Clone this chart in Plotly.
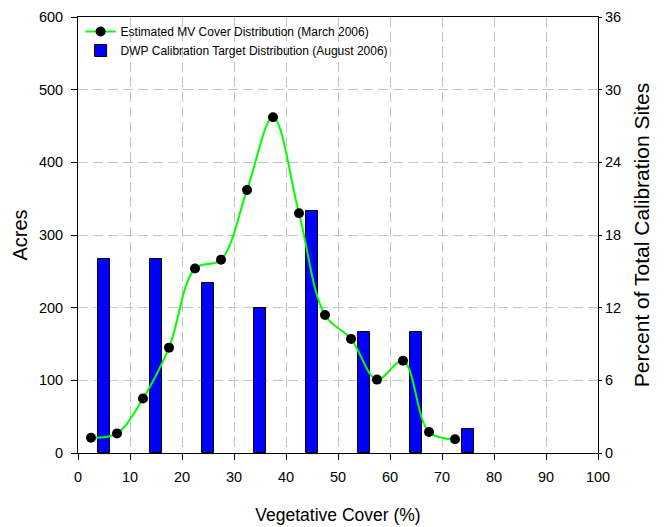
import plotly.graph_objects as go

cover_mid = [2.5, 7.5, 12.5, 17.5, 22.5, 27.5, 32.5, 37.5, 42.5, 47.5, 52.5, 57.5, 62.5, 67.5, 72.5]
acres = [21, 27, 75, 145, 254, 266, 362, 462, 330, 190, 157, 101, 127, 29, 19]

bar_x = [5, 15, 25, 35, 45, 55, 65, 75]
pct_sites = [16, 16, 14, 12, 20, 10, 10, 2]

regular = "Liberation Sans, Arial, sans-serif"
grid = dict(showgrid=True, gridcolor="#C4C4C4", griddash="10px,5px", gridwidth=1)

fig = go.Figure()
fig.add_trace(go.Bar(
    x=bar_x, y=pct_sites, width=2.4, yaxis="y",
    name="DWP Calibration Target Distribution (August 2006)",
    marker=dict(color="#0000FF", line=dict(color="black", width=1)),
    legendrank=2,
))
fig.add_trace(go.Scatter(
    x=cover_mid, y=acres, yaxis="y2", mode="lines+markers",
    name="Estimated MV Cover Distribution (March 2006)",
    line=dict(color="#00FF00", width=2, shape="spline", smoothing=1),
    marker=dict(color="black", size=10),
    legendrank=1,
))

fig.update_layout(
    width=667, height=527,
    margin=dict(l=78, r=69, t=17, b=74, autoexpand=False),
    plot_bgcolor="white", paper_bgcolor="white",
    font=dict(family=regular, size=14.5, color="black"),
    showlegend=True,
    legend=dict(x=0.005, y=1.0, xanchor="left", yanchor="top",
                bgcolor="rgba(0,0,0,0)", font=dict(size=12),
                tracegroupgap=0, itemwidth=30),
    bargap=0,
    xaxis=dict(range=[0, 100], dtick=10, tick0=0, automargin=False,
               showline=True, linecolor="black", linewidth=1, mirror=True,
               ticks="outside", ticklen=6, tickcolor="black", ticklabelstandoff=5,
               zeroline=False, **grid,
               title=dict(text="Vegetative Cover (%)", font=dict(size=17.5), standoff=24)),
    yaxis=dict(range=[0, 36], dtick=6, tick0=0, side="right", automargin=False,
               showline=True, linecolor="black", linewidth=1,
               ticks="outside", ticklen=3, tickcolor="black",
               zeroline=False, **grid,
               title=dict(text="Percent of Total Calibration Sites",
                          font=dict(size=21), standoff=14)),
    yaxis2=dict(range=[0, 600], dtick=100, tick0=0, side="left", overlaying="y", automargin=False,
                showline=True, linecolor="black", linewidth=1,
                ticks="outside", ticklen=6, tickcolor="black", ticklabelstandoff=5,
                showgrid=False, zeroline=False,
                title=dict(text="Acres", font=dict(size=20), standoff=5)),
)

fig.write_html("out.html", config={"displayModeBar": False},
               post_script="document.body.style.margin='0';")
